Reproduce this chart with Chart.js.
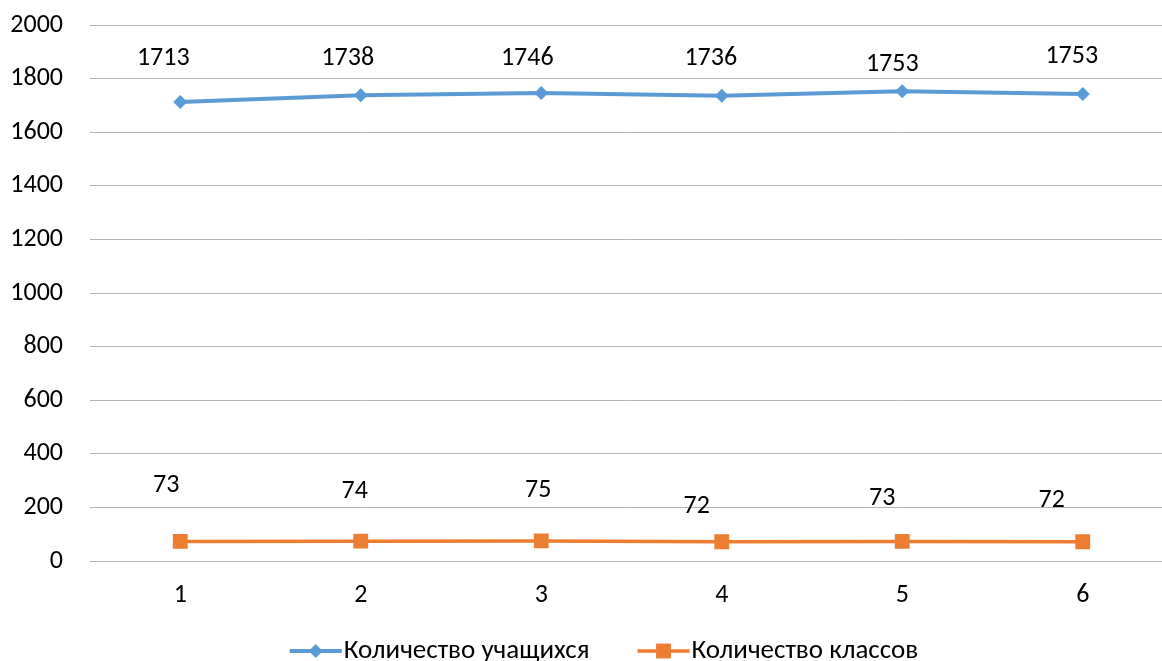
<!DOCTYPE html>
<html>
<head>
<meta charset="utf-8">
<script src="https://cdn.jsdelivr.net/npm/chart.js@4.4.1/dist/chart.umd.min.js"></script>
<style>
    html, body { margin: 0; padding: 0; background: #fff; overflow: hidden; }
    #wrap { width: 1208px; height: 661px; position: relative; }
</style>
</head>
<body>
<div id="wrap"><canvas id="chart"></canvas></div>
<script>
// chart data
const categories = ['1', '2', '3', '4', '5', '6'];
const studentCounts = [1713, 1738, 1746, 1736, 1753, 1743];
const studentLabels = ['1713', '1738', '1746', '1736', '1753', '1753'];
const classCounts = [73, 74, 75, 72, 73, 72];
const classLabels = ['73', '74', '75', '72', '73', '72'];
const yTicks = [0, 200, 400, 600, 800, 1000, 1200, 1400, 1600, 1800, 2000];

// label placement relative to each point (manually moved in the original)
const studentLabelShift = [[-17, -43], [-13, -37], [-14, -35], [-11, -37], [-10, -27], [-11, -37]];
const classLabelShift = [[-14, -56], [-6, -50], [-3, -50], [-25, -35], [-20, -43], [-31, -41]];

const FONT = "Carlito, Calibri, Lato, 'Noto Sans', sans-serif";
const FONT_SIZE = 26;

const valueLabels = {
    id: 'valueLabels',
    afterDatasetsDraw(chart) {
        const ctx = chart.ctx;
        ctx.save();
        ctx.font = `${FONT_SIZE}px ${FONT}`;
        ctx.fillStyle = '#000';
        ctx.textAlign = 'center';
        ctx.textBaseline = 'middle';
        chart.data.datasets.forEach((ds, i) => {
            const meta = chart.getDatasetMeta(i);
            meta.data.forEach((pt, j) => {
                const s = ds.labelShift[j];
                ctx.fillText(ds.valueLabels[j], pt.x + s[0], pt.y + s[1]);
            });
        });
        ctx.restore();
    }
};

// legend: line with marker in the middle, then text
const lineLegend = {
    id: 'lineLegend',
    afterDraw(chart) {
        const ctx = chart.ctx;
        const lineLen = 52, gap = 48, y = 651;
        ctx.save();
        ctx.font = `27px ${FONT}`;
        const items = chart.data.datasets.map(ds => ({ ds, w: lineLen + 2 + ctx.measureText(ds.label).width }));
        const total = items.reduce((a, it) => a + it.w, 0) + gap * (items.length - 1);
        let x = chart.width / 2 - total / 2;
        items.forEach(({ ds, w }) => {
            ctx.strokeStyle = ds.borderColor;
            ctx.lineWidth = ds.borderWidth;
            ctx.beginPath();
            ctx.moveTo(x, y);
            ctx.lineTo(x + lineLen, y);
            ctx.stroke();
            const cx = x + lineLen / 2;
            ctx.fillStyle = ds.pointBackgroundColor;
            ctx.beginPath();
            if (ds.pointStyle === 'rectRot') {
                const r = ds.pointRadius;
                ctx.moveTo(cx, y - r);
                ctx.lineTo(cx + r, y);
                ctx.lineTo(cx, y + r);
                ctx.lineTo(cx - r, y);
                ctx.closePath();
            } else {
                const h = ds.pointRadius * Math.SQRT1_2;
                ctx.rect(cx - h, y - h, 2 * h, 2 * h);
            }
            ctx.fill();
            ctx.fillStyle = '#000';
            ctx.textAlign = 'left';
            ctx.textBaseline = 'middle';
            ctx.fillText(ds.label, x + lineLen + 2, y);
            x += w + gap;
        });
        ctx.restore();
    }
};

new Chart(document.getElementById('chart'), {
    type: 'line',
    data: {
        labels: categories,
        datasets: [
            {
                label: 'Количество учащихся',
                data: studentCounts,
                valueLabels: studentLabels,
                labelShift: studentLabelShift,
                borderColor: '#5B9BD5',
                backgroundColor: '#5B9BD5',
                pointBackgroundColor: '#5B9BD5',
                pointBorderColor: '#5B9BD5',
                borderWidth: 4,
                pointStyle: 'rectRot',
                pointRadius: 7,
                pointBorderWidth: 0,
                tension: 0
            },
            {
                label: 'Количество классов',
                data: classCounts,
                valueLabels: classLabels,
                labelShift: classLabelShift,
                borderColor: '#ED7D31',
                backgroundColor: '#ED7D31',
                pointBackgroundColor: '#ED7D31',
                pointBorderColor: '#ED7D31',
                borderWidth: 3.5,
                pointStyle: 'rect',
                pointRadius: 10.5,
                pointBorderWidth: 0,
                tension: 0
            }
        ]
    },
    options: {
        responsive: true,
        maintainAspectRatio: false,
        animation: false,
        layout: { autoPadding: false, padding: { top: 25, right: 35, bottom: 48, left: 0 } },
        plugins: {
            legend: { display: false },
            tooltip: { enabled: false }
        },
        scales: {
            x: {
                offset: true,
                afterFit(scale) { scale.height = 52; scale.paddingLeft = 0; scale.paddingRight = 0; },
                grid: { display: false, drawTicks: false },
                border: { display: false },
                ticks: { color: '#000', padding: 19, font: { family: FONT, size: FONT_SIZE } }
            },
            y: {
                min: 0,
                max: 2000,
                afterFit(scale) { scale.width = 90; scale.paddingTop = 0; scale.paddingBottom = 0; },
                afterBuildTicks(scale) { scale.ticks = yTicks.map(v => ({ value: v })); },
                grid: { color: '#B4B4B4', lineWidth: 1, drawTicks: false },
                border: { display: false },
                ticks: {
                    color: '#000',
                    padding: 27,
                    font: { family: FONT, size: FONT_SIZE },
                    callback: v => String(v)
                }
            }
        }
    },
    plugins: [valueLabels, lineLegend]
});
</script>
</body>
</html>
